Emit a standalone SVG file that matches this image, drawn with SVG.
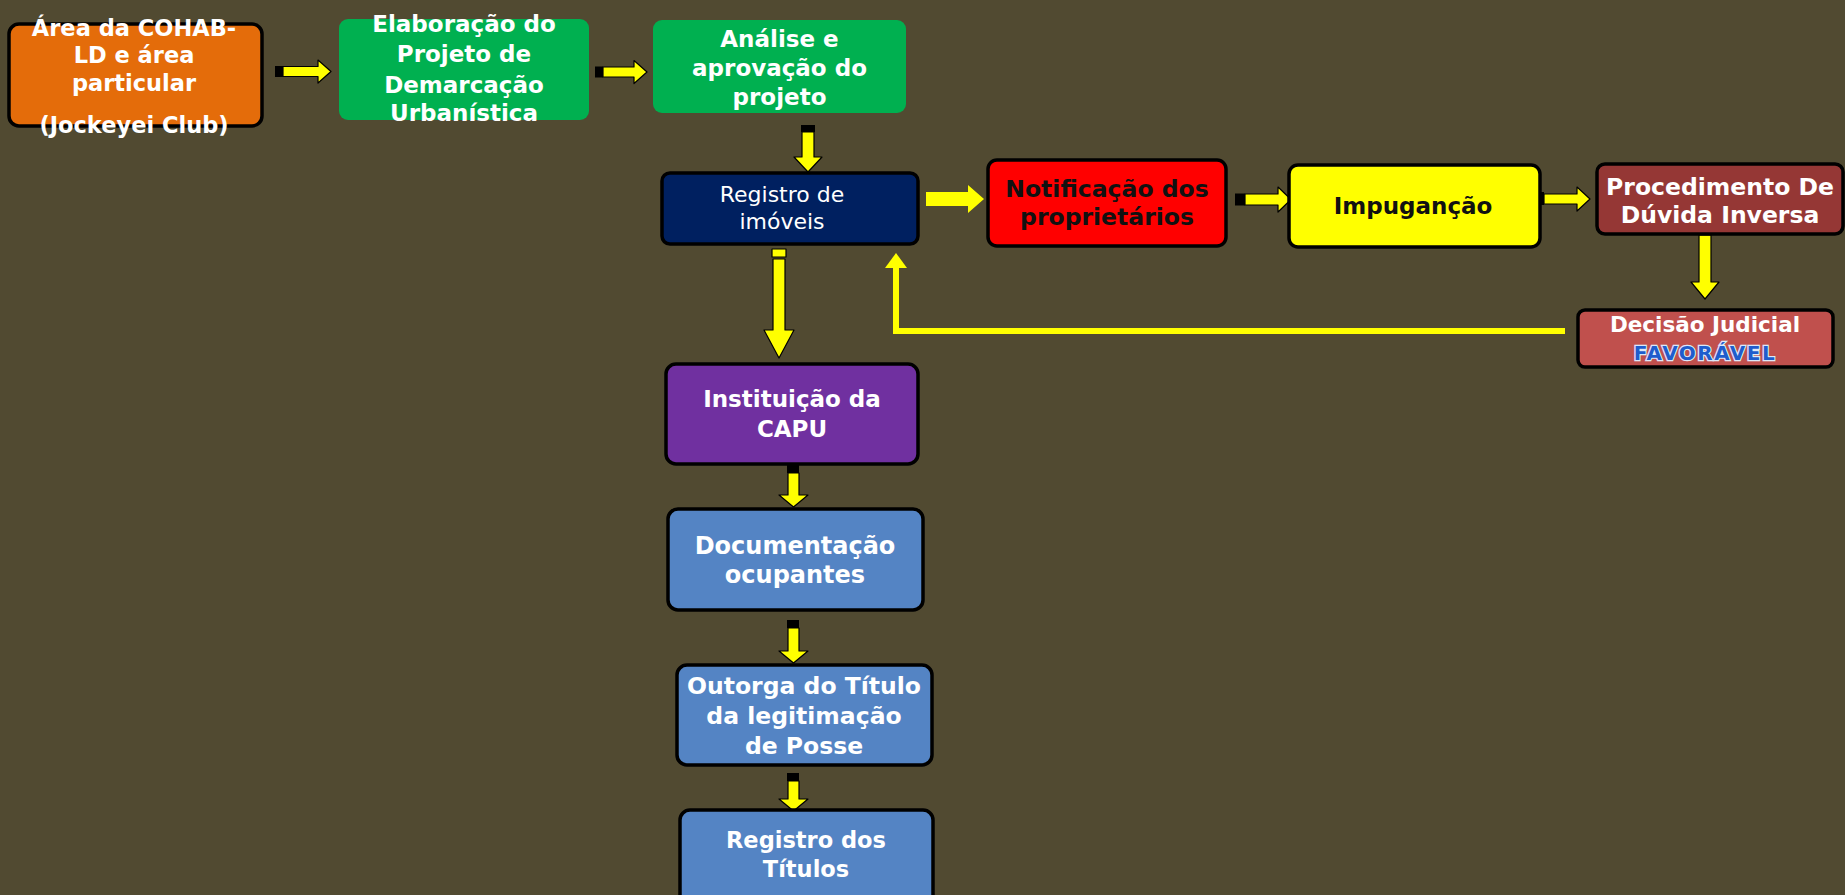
<svg xmlns="http://www.w3.org/2000/svg" width="1845" height="895" viewBox="0 0 1845 895">
<style>
.box{stroke:#000;stroke-width:3.5}
.t{font-family:"DejaVu Sans","Liberation Sans",sans-serif;font-weight:bold;text-anchor:middle;fill:#fff}
.dark{fill:#111}
.reg{font-weight:normal}
.fav{fill:#1f5ccc;stroke:#dce8f8;stroke-width:2.4;paint-order:stroke}
.ya{fill:#ffff00;stroke:#000;stroke-width:1.2;stroke-linejoin:round}
.tail{fill:#000}
</style>
<rect x="0" y="0" width="1845" height="895" fill="#514a31"/>

<g id="connectors">
  <rect class="tail" x="275" y="66" width="8" height="11"/>
  <polygon class="ya" points="283,66.5 318,66.5 318,60 331,71.5 318,83 318,76.5 283,76.5"/>
  <rect class="tail" x="595" y="66.5" width="8" height="11"/>
  <polygon class="ya" points="603,67 634,67 634,60.5 647,72 634,83.5 634,77 603,77"/>
  <rect class="tail" x="801" y="125" width="14" height="7"/>
  <polygon class="ya" points="802,132 814,132 814,157 822,157 808,172 794,157 802,157"/>
  <polygon fill="#ffff00" points="926,192 968,192 968,185 984,199 968,213 968,206 926,206"/>
  <rect class="tail" x="1235" y="193.5" width="10" height="12"/>
  <polygon class="ya" points="1245,194 1278,194 1278,187 1291,199.5 1278,212 1278,205 1245,205"/>
  <rect class="tail" x="1537" y="192" width="7" height="13"/>
  <polygon class="ya" points="1544,194 1577,194 1577,187 1590,199 1577,211 1577,204 1544,204"/>
  <rect class="tail" x="1698.5" y="228" width="13" height="7"/>
  <polygon class="ya" points="1699,235 1711,235 1711,282 1719,282 1705,299 1691,282 1699,282"/>
  <rect class="ya" x="772" y="249" width="14" height="8"/>
  <polygon class="ya" points="773,259 785,259 785,330 794,330 779,358 764,330 773,330"/>
  <polyline points="1565,331 896,331 896,266" fill="none" stroke="#ffff00" stroke-width="6"/>
  <polygon fill="#ffff00" points="885,268 896,253 907,268"/>
  <rect class="tail" x="787" y="464" width="12" height="9"/>
  <polygon class="ya" points="788,473 799,473 799,495 808,495 793.5,507 779,495 788,495"/>
  <rect class="tail" x="787" y="620" width="12" height="8"/>
  <polygon class="ya" points="788,628 799,628 799,651 808,651 793.5,663 779,651 788,651"/>
  <rect class="tail" x="787" y="773" width="12" height="8"/>
  <polygon class="ya" points="788,781 799,781 799,799 808,799 793.5,811 779,799 788,799"/>
</g>

<g id="n1">
  <rect class="box" x="9" y="24" width="253" height="102" rx="10" fill="#e46c0a"/>
  <text class="t" font-size="22.5"><tspan x="134" y="36">Área da COHAB-</tspan><tspan x="134" y="63">LD e área</tspan><tspan x="134" y="91">particular</tspan><tspan x="134" y="133">(Jockeyei Club)</tspan></text>
</g>

<g id="n2">
  <rect x="339" y="19" width="250" height="101" rx="9" fill="#00b050"/>
  <text class="t" font-size="23"><tspan x="464" y="32">Elaboração do</tspan><tspan x="464" y="61.5">Projeto de</tspan><tspan x="464" y="92.5">Demarcação</tspan><tspan x="464" y="120.5">Urbanística</tspan></text>
</g>

<g id="n3">
  <rect x="653" y="20" width="253" height="93" rx="9" fill="#00b050"/>
  <text class="t" font-size="23"><tspan x="779.5" y="46.5">Análise e</tspan><tspan x="779.5" y="75.5">aprovação do</tspan><tspan x="779.5" y="105">projeto</tspan></text>
</g>

<g id="n4">
  <rect class="box" x="662" y="173" width="256" height="71" rx="8" fill="#002060"/>
  <text class="t reg" font-size="22"><tspan x="782" y="202">Registro de</tspan><tspan x="782" y="229">imóveis</tspan></text>
</g>

<g id="n5">
  <rect class="box" x="988" y="160" width="238" height="86" rx="9" fill="#ff0000"/>
  <text class="t dark" font-size="23.5"><tspan x="1107" y="196.5">Notificação dos</tspan><tspan x="1107" y="225">proprietários</tspan></text>
</g>

<g id="n6">
  <rect class="box" x="1289" y="165" width="251" height="82" rx="9" fill="#ffff00"/>
  <text class="t dark" font-size="23" x="1413" y="213.5">Impuganção</text>
</g>

<g id="n7">
  <rect class="box" x="1597" y="164" width="246" height="70" rx="8" fill="#953735"/>
  <text class="t" font-size="23.5"><tspan x="1720" y="194.5">Procedimento De</tspan><tspan x="1720" y="222.5">Dúvida Inversa</tspan></text>
</g>

<g id="n8">
  <rect class="box" x="1578" y="310" width="255" height="57" rx="7" fill="#c0504d"/>
  <text class="t" font-size="21.5" x="1705" y="331.5">Decisão Judicial</text>
  <text class="t fav" font-size="20" x="1705" y="359.5" letter-spacing="1.5">FAVORÁVEL</text>
</g>

<g id="n9">
  <rect class="box" x="666" y="364" width="252" height="100" rx="10" fill="#7030a0"/>
  <text class="t" font-size="23"><tspan x="792" y="406.5">Instituição da</tspan><tspan x="792" y="436.5">CAPU</tspan></text>
</g>

<g id="n10">
  <rect class="box" x="668" y="509" width="255" height="101" rx="10" fill="#5484c4"/>
  <text class="t" font-size="24"><tspan x="795" y="554">Documentação</tspan><tspan x="795" y="583">ocupantes</tspan></text>
</g>

<g id="n11">
  <rect class="box" x="677" y="665" width="255" height="100" rx="10" fill="#5484c4"/>
  <text class="t" font-size="23.5"><tspan x="804" y="693.5">Outorga do Título</tspan><tspan x="804" y="723.5">da legitimação</tspan><tspan x="804" y="753.5">de Posse</tspan></text>
</g>

<g id="n12">
  <rect class="box" x="680" y="810" width="253" height="100" rx="10" fill="#5484c4"/>
  <text class="t" font-size="22.5"><tspan x="806" y="848">Registro dos</tspan><tspan x="806" y="877">Títulos</tspan></text>
</g>
</svg>
